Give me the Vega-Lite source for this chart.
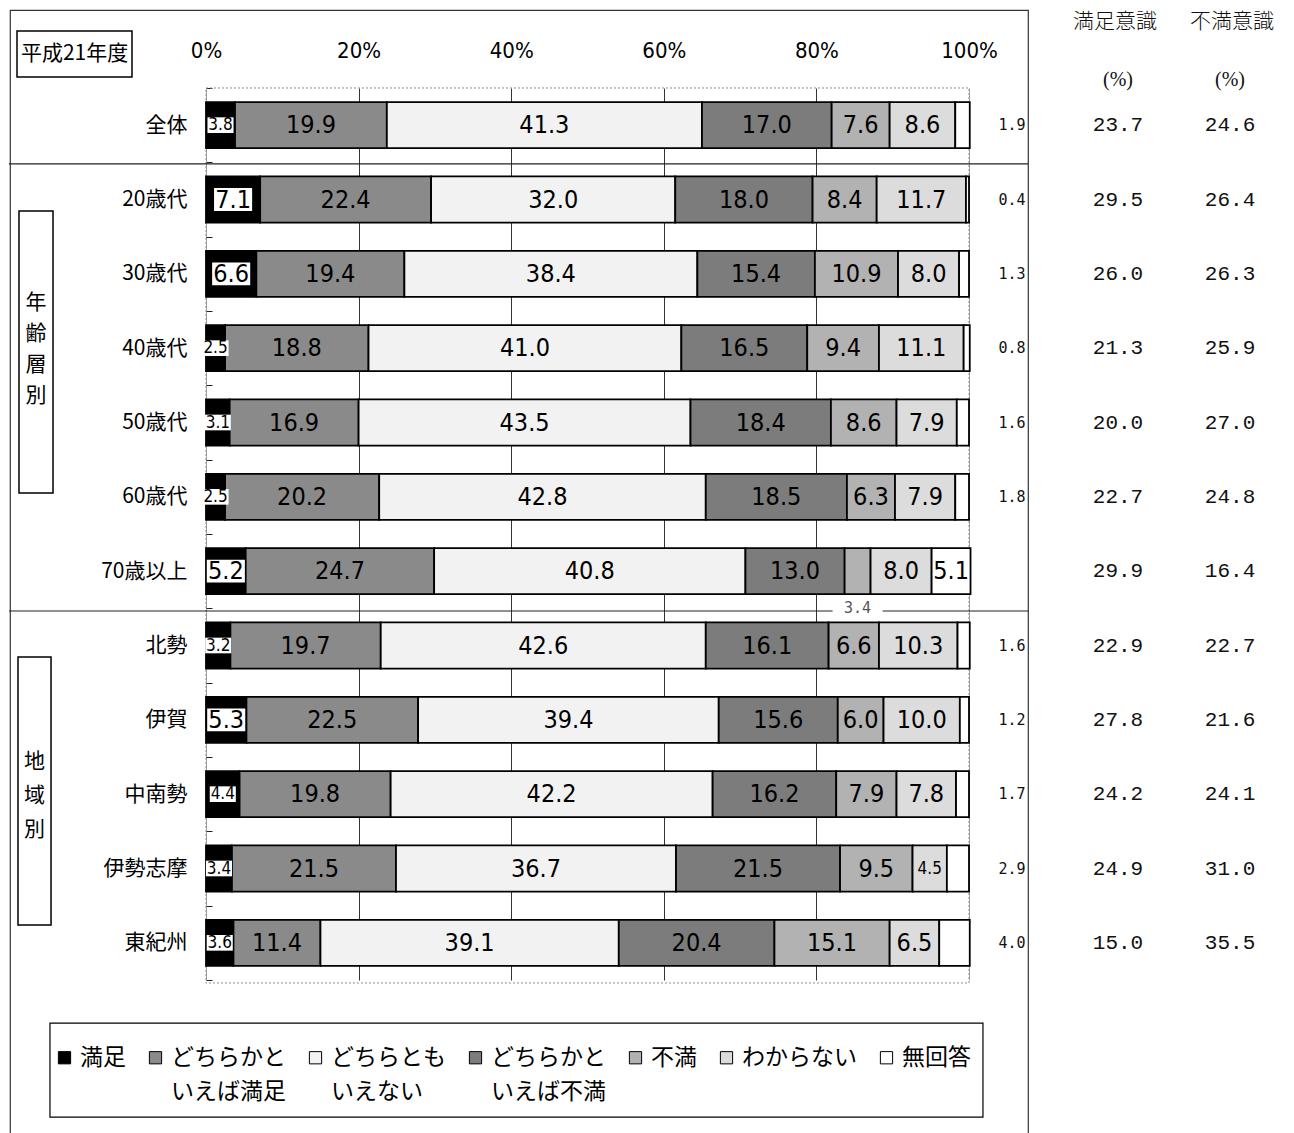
{
  "$schema": "https://vega.github.io/schema/vega-lite/v6.json",
  "width": 1018,
  "height": 1125,
  "autosize": {"type": "none"},
  "padding": {"left": 10, "top": 10, "right": 266, "bottom": 0},
  "background": "white",
  "config": {
    "view": {"stroke": "#333", "strokeWidth": 1.2},
    "axis": {"labelOverlap": false, "labelFlush": false}
  },
  "datasets": {
    "survey": [
      {"row":"全体","cat":"満足","code":1,"v":3.8},{"row":"全体","cat":"どちらかといえば満足","code":2,"v":19.9},{"row":"全体","cat":"どちらともいえない","code":3,"v":41.3},{"row":"全体","cat":"どちらかといえば不満","code":4,"v":17.0},{"row":"全体","cat":"不満","code":5,"v":7.6},{"row":"全体","cat":"わからない","code":6,"v":8.6},{"row":"全体","cat":"無回答","code":7,"v":1.9},
      {"row":"20歳代","cat":"満足","code":1,"v":7.1},{"row":"20歳代","cat":"どちらかといえば満足","code":2,"v":22.4},{"row":"20歳代","cat":"どちらともいえない","code":3,"v":32.0},{"row":"20歳代","cat":"どちらかといえば不満","code":4,"v":18.0},{"row":"20歳代","cat":"不満","code":5,"v":8.4},{"row":"20歳代","cat":"わからない","code":6,"v":11.7},{"row":"20歳代","cat":"無回答","code":7,"v":0.4},
      {"row":"30歳代","cat":"満足","code":1,"v":6.6},{"row":"30歳代","cat":"どちらかといえば満足","code":2,"v":19.4},{"row":"30歳代","cat":"どちらともいえない","code":3,"v":38.4},{"row":"30歳代","cat":"どちらかといえば不満","code":4,"v":15.4},{"row":"30歳代","cat":"不満","code":5,"v":10.9},{"row":"30歳代","cat":"わからない","code":6,"v":8.0},{"row":"30歳代","cat":"無回答","code":7,"v":1.3},
      {"row":"40歳代","cat":"満足","code":1,"v":2.5},{"row":"40歳代","cat":"どちらかといえば満足","code":2,"v":18.8},{"row":"40歳代","cat":"どちらともいえない","code":3,"v":41.0},{"row":"40歳代","cat":"どちらかといえば不満","code":4,"v":16.5},{"row":"40歳代","cat":"不満","code":5,"v":9.4},{"row":"40歳代","cat":"わからない","code":6,"v":11.1},{"row":"40歳代","cat":"無回答","code":7,"v":0.8},
      {"row":"50歳代","cat":"満足","code":1,"v":3.1},{"row":"50歳代","cat":"どちらかといえば満足","code":2,"v":16.9},{"row":"50歳代","cat":"どちらともいえない","code":3,"v":43.5},{"row":"50歳代","cat":"どちらかといえば不満","code":4,"v":18.4},{"row":"50歳代","cat":"不満","code":5,"v":8.6},{"row":"50歳代","cat":"わからない","code":6,"v":7.9},{"row":"50歳代","cat":"無回答","code":7,"v":1.6},
      {"row":"60歳代","cat":"満足","code":1,"v":2.5},{"row":"60歳代","cat":"どちらかといえば満足","code":2,"v":20.2},{"row":"60歳代","cat":"どちらともいえない","code":3,"v":42.8},{"row":"60歳代","cat":"どちらかといえば不満","code":4,"v":18.5},{"row":"60歳代","cat":"不満","code":5,"v":6.3},{"row":"60歳代","cat":"わからない","code":6,"v":7.9},{"row":"60歳代","cat":"無回答","code":7,"v":1.8},
      {"row":"70歳以上","cat":"満足","code":1,"v":5.2},{"row":"70歳以上","cat":"どちらかといえば満足","code":2,"v":24.7},{"row":"70歳以上","cat":"どちらともいえない","code":3,"v":40.8},{"row":"70歳以上","cat":"どちらかといえば不満","code":4,"v":13.0},{"row":"70歳以上","cat":"不満","code":5,"v":3.4},{"row":"70歳以上","cat":"わからない","code":6,"v":8.0},{"row":"70歳以上","cat":"無回答","code":7,"v":5.1},
      {"row":"北勢","cat":"満足","code":1,"v":3.2},{"row":"北勢","cat":"どちらかといえば満足","code":2,"v":19.7},{"row":"北勢","cat":"どちらともいえない","code":3,"v":42.6},{"row":"北勢","cat":"どちらかといえば不満","code":4,"v":16.1},{"row":"北勢","cat":"不満","code":5,"v":6.6},{"row":"北勢","cat":"わからない","code":6,"v":10.3},{"row":"北勢","cat":"無回答","code":7,"v":1.6},
      {"row":"伊賀","cat":"満足","code":1,"v":5.3},{"row":"伊賀","cat":"どちらかといえば満足","code":2,"v":22.5},{"row":"伊賀","cat":"どちらともいえない","code":3,"v":39.4},{"row":"伊賀","cat":"どちらかといえば不満","code":4,"v":15.6},{"row":"伊賀","cat":"不満","code":5,"v":6.0},{"row":"伊賀","cat":"わからない","code":6,"v":10.0},{"row":"伊賀","cat":"無回答","code":7,"v":1.2},
      {"row":"中南勢","cat":"満足","code":1,"v":4.4},{"row":"中南勢","cat":"どちらかといえば満足","code":2,"v":19.8},{"row":"中南勢","cat":"どちらともいえない","code":3,"v":42.2},{"row":"中南勢","cat":"どちらかといえば不満","code":4,"v":16.2},{"row":"中南勢","cat":"不満","code":5,"v":7.9},{"row":"中南勢","cat":"わからない","code":6,"v":7.8},{"row":"中南勢","cat":"無回答","code":7,"v":1.7},
      {"row":"伊勢志摩","cat":"満足","code":1,"v":3.4},{"row":"伊勢志摩","cat":"どちらかといえば満足","code":2,"v":21.5},{"row":"伊勢志摩","cat":"どちらともいえない","code":3,"v":36.7},{"row":"伊勢志摩","cat":"どちらかといえば不満","code":4,"v":21.5},{"row":"伊勢志摩","cat":"不満","code":5,"v":9.5},{"row":"伊勢志摩","cat":"わからない","code":6,"v":4.5},{"row":"伊勢志摩","cat":"無回答","code":7,"v":2.9},
      {"row":"東紀州","cat":"満足","code":1,"v":3.6},{"row":"東紀州","cat":"どちらかといえば満足","code":2,"v":11.4},{"row":"東紀州","cat":"どちらともいえない","code":3,"v":39.1},{"row":"東紀州","cat":"どちらかといえば不満","code":4,"v":20.4},{"row":"東紀州","cat":"不満","code":5,"v":15.1},{"row":"東紀州","cat":"わからない","code":6,"v":6.5},{"row":"東紀州","cat":"無回答","code":7,"v":4.0}
    ],
    "summary": [
      {"row":"全体","sat":23.7,"dis":24.6},
      {"row":"20歳代","sat":29.5,"dis":26.4},
      {"row":"30歳代","sat":26.0,"dis":26.3},
      {"row":"40歳代","sat":21.3,"dis":25.9},
      {"row":"50歳代","sat":20.0,"dis":27.0},
      {"row":"60歳代","sat":22.7,"dis":24.8},
      {"row":"70歳以上","sat":29.9,"dis":16.4},
      {"row":"北勢","sat":22.9,"dis":22.7},
      {"row":"伊賀","sat":27.8,"dis":21.6},
      {"row":"中南勢","sat":24.2,"dis":24.1},
      {"row":"伊勢志摩","sat":24.9,"dis":31.0},
      {"row":"東紀州","sat":15.0,"dis":35.5}
    ]
  },
  "resolve": {"scale": {"y": "independent"}, "axis": {"x": "independent", "y": "independent"}},
  "layer": [
    {
      "data": {"values": [{}]},
      "layer": [
        {"mark": {"type": "rect", "fill": "transparent", "stroke": "#8c8c8c", "strokeWidth": 1, "strokeDash": [2, 2]},
         "encoding": {
           "x": {"datum": 0, "type": "quantitative", "scale": {"domain": [0, 100], "range": [196, 959], "nice": false, "zero": false}, "axis": null},
           "x2": {"datum": 100},
           "y": {"datum": 0.5, "type": "quantitative", "scale": {"domain": [0, 15], "range": [40.83, 1155.83], "nice": false, "zero": false}, "axis": null},
           "y2": {"datum": 12.54}}},
        {"mark": {"type": "rect", "fill": "white", "stroke": "#000", "strokeWidth": 1.5},
         "encoding": {
           "x": {"datum": -24.77, "type": "quantitative", "scale": {"domain": [0, 100], "range": [196, 959], "nice": false, "zero": false}, "axis": null},
           "x2": {"datum": -9.7},
           "y": {"datum": -0.267, "type": "quantitative", "scale": {"domain": [0, 15], "range": [40.83, 1155.83], "nice": false, "zero": false}, "axis": null},
           "y2": {"datum": 0.352}}},
        {"mark": {"type": "text", "font": "Noto Sans CJK JP", "fontSize": 21, "align": "center", "baseline": "middle", "color": "#000"},
         "encoding": {
           "x": {"datum": -17.23, "type": "quantitative", "scale": {"domain": [0, 100], "range": [196, 959], "nice": false, "zero": false}, "axis": null},
           "y": {"datum": 0.043, "type": "quantitative", "scale": {"domain": [0, 15], "range": [40.83, 1155.83], "nice": false, "zero": false}, "axis": null},
           "text": {"value": "平成21年度"}}},
        {"mark": {"type": "rule", "stroke": "#222", "strokeWidth": 1.2},
         "encoding": {
           "x": {"datum": -25.82, "type": "quantitative", "scale": {"domain": [0, 100], "range": [196, 959], "nice": false, "zero": false}, "axis": null},
           "x2": {"datum": 107.73},
           "y": {"datum": 1.522, "type": "quantitative", "scale": {"domain": [0, 15], "range": [40.83, 1155.83], "nice": false, "zero": false}, "axis": null}}},
        {"mark": {"type": "rule", "stroke": "#222", "strokeWidth": 1.2},
         "encoding": {
           "x": {"datum": -25.82, "type": "quantitative", "scale": {"domain": [0, 100], "range": [196, 959], "nice": false, "zero": false}, "axis": null},
           "x2": {"datum": 107.73},
           "y": {"datum": 7.536, "type": "quantitative", "scale": {"domain": [0, 15], "range": [40.83, 1155.83], "nice": false, "zero": false}, "axis": null}}},
        {"mark": {"type": "rect", "fill": "white", "stroke": "#000", "strokeWidth": 1.5},
         "encoding": {
           "x": {"datum": -24.51, "type": "quantitative", "scale": {"domain": [0, 100], "range": [196, 959], "nice": false, "zero": false}, "axis": null},
           "x2": {"datum": -20.05},
           "y": {"datum": 2.155, "type": "quantitative", "scale": {"domain": [0, 15], "range": [40.83, 1155.83], "nice": false, "zero": false}, "axis": null},
           "y2": {"datum": 5.949}}},
        {"mark": {"type": "text", "font": "Noto Sans CJK JP", "fontSize": 21, "align": "center", "baseline": "middle", "lineHeight": 31, "color": "#000"},
         "encoding": {
           "x": {"datum": -22.28, "type": "quantitative", "scale": {"domain": [0, 100], "range": [196, 959], "nice": false, "zero": false}, "axis": null},
           "y": {"datum": 3.392, "type": "quantitative", "scale": {"domain": [0, 15], "range": [40.83, 1155.83], "nice": false, "zero": false}, "axis": null},
           "text": {"value": ["年", "齢", "層", "別"]}}},
        {"mark": {"type": "rect", "fill": "white", "stroke": "#000", "strokeWidth": 1.5},
         "encoding": {
           "x": {"datum": -24.64, "type": "quantitative", "scale": {"domain": [0, 100], "range": [196, 959], "nice": false, "zero": false}, "axis": null},
           "x2": {"datum": -20.31},
           "y": {"datum": 8.155, "type": "quantitative", "scale": {"domain": [0, 15], "range": [40.83, 1155.83], "nice": false, "zero": false}, "axis": null},
           "y2": {"datum": 11.761}}},
        {"mark": {"type": "text", "font": "Noto Sans CJK JP", "fontSize": 21, "align": "center", "baseline": "middle", "lineHeight": 34, "color": "#000"},
         "encoding": {
           "x": {"datum": -22.48, "type": "quantitative", "scale": {"domain": [0, 100], "range": [196, 959], "nice": false, "zero": false}, "axis": null},
           "y": {"datum": 9.567, "type": "quantitative", "scale": {"domain": [0, 15], "range": [40.83, 1155.83], "nice": false, "zero": false}, "axis": null},
           "text": {"value": ["地", "域", "別"]}}},
        {"mark": {"type": "text", "font": "Noto Sans CJK JP", "fontSize": 21, "fontWeight": 300, "align": "center", "baseline": "middle", "color": "#111"},
         "encoding": {
           "x": {"datum": 119.13, "type": "quantitative", "scale": {"domain": [0, 100], "range": [196, 959], "nice": false, "zero": false}, "axis": null},
           "y": {"datum": -0.388, "type": "quantitative", "scale": {"domain": [0, 15], "range": [40.83, 1155.83], "nice": false, "zero": false}, "axis": null},
           "text": {"value": "満足意識"}}},
        {"mark": {"type": "text", "font": "Noto Sans CJK JP", "fontSize": 21, "fontWeight": 300, "align": "center", "baseline": "middle", "color": "#111"},
         "encoding": {
           "x": {"datum": 134.47, "type": "quantitative", "scale": {"domain": [0, 100], "range": [196, 959], "nice": false, "zero": false}, "axis": null},
           "y": {"datum": -0.388, "type": "quantitative", "scale": {"domain": [0, 15], "range": [40.83, 1155.83], "nice": false, "zero": false}, "axis": null},
           "text": {"value": "不満意識"}}},
        {"mark": {"type": "text", "font": "Liberation Serif", "fontSize": 20, "align": "center", "baseline": "middle", "color": "#111"},
         "encoding": {
           "x": {"datum": 119.53, "type": "quantitative", "scale": {"domain": [0, 100], "range": [196, 959], "nice": false, "zero": false}, "axis": null},
           "y": {"datum": 0.393, "type": "quantitative", "scale": {"domain": [0, 15], "range": [40.83, 1155.83], "nice": false, "zero": false}, "axis": null},
           "text": {"value": "(%)"}}},
        {"mark": {"type": "text", "font": "Liberation Serif", "fontSize": 20, "align": "center", "baseline": "middle", "color": "#111"},
         "encoding": {
           "x": {"datum": 134.21, "type": "quantitative", "scale": {"domain": [0, 100], "range": [196, 959], "nice": false, "zero": false}, "axis": null},
           "y": {"datum": 0.393, "type": "quantitative", "scale": {"domain": [0, 15], "range": [40.83, 1155.83], "nice": false, "zero": false}, "axis": null},
           "text": {"value": "(%)"}}},
        {"mark": {"type": "rect", "fill": "white", "stroke": "#000", "strokeWidth": 1.2},
         "encoding": {
           "x": {"datum": -20.45, "type": "quantitative", "scale": {"domain": [0, 100], "range": [196, 959], "nice": false, "zero": false}, "axis": null},
           "x2": {"datum": 101.83},
           "y": {"datum": 13.079, "type": "quantitative", "scale": {"domain": [0, 15], "range": [40.83, 1155.83], "nice": false, "zero": false}, "axis": null},
           "y2": {"datum": 14.344}}}
      ]
    },
    {
      "data": {"name": "survey"},
      "layer": [
        {"mark": {"type": "bar", "height": {"band": 0.62}, "stroke": "#000", "strokeWidth": 1.8},
         "encoding": {
           "y": {"field": "row", "type": "nominal",
                 "scale": {"domain": ["全体","20歳代","30歳代","40歳代","50歳代","60歳代","70歳以上","北勢","伊賀","中南勢","伊勢志摩","東紀州"], "range": [78, 970], "paddingInner": 0, "paddingOuter": 0},
                 "axis": {"orient": "left", "offset": -196, "title": null, "domain": false, "ticks": true, "tickBand": "extent", "tickSize": -6, "tickColor": "#222", "tickWidth": 1, "labelFont": "Noto Sans CJK JP", "labelFontSize": 21, "labelColor": "#000", "labelPadding": 25, "grid": false}},
           "x": {"field": "v", "type": "quantitative", "stack": "zero",
                 "scale": {"domain": [0, 100], "range": [196, 959], "nice": false, "zero": false},
                 "axis": {"orient": "top", "offset": -78, "title": null, "values": [0, 20, 40, 60, 80, 100], "labelExpr": "datum.value + '%'", "labelFont": "Liberation Sans Narrow, DejaVu Sans Condensed, DejaVu Sans Mono", "labelFontSize": 22, "labelColor": "#000", "labelPadding": 26, "ticks": false, "domain": false, "grid": true,
                          "gridColor": {"condition": {"test": "datum.value == 0 || datum.value == 100", "value": "#a0a0a0"}, "value": "#333"}, "gridWidth": 1}},
           "color": {"field": "cat", "type": "nominal",
                     "scale": {"domain": ["満足","どちらかといえば満足","どちらともいえない","どちらかといえば不満","不満","わからない","無回答"],
                               "range": ["#000000","#8a8a8a","#f2f2f2","#7c7c7c","#b2b2b2","#dcdcdc","#ffffff"]},
                     "legend": {"orient": "none", "legendX": 43, "legendY": 1036, "direction": "horizontal", "title": null, "padding": 0,
                                "symbolType": "square", "symbolSize": 150, "symbolStrokeColor": "#000", "symbolStrokeWidth": 1, "symbolOpacity": 1,
                                "labelFont": "Noto Sans CJK JP", "labelFontSize": 23, "labelColor": "#000", "labelLimit": 0, "labelOffset": 4, "columnPadding": 18,
                                "labelExpr": "length(datum.label) > 5 ? [substring(datum.label, 0, 5), substring(datum.label, 5)] : [datum.label, ' ']",
                                "encode": {"labels": {"update": {"lineHeight": {"value": 34}}}}}},
           "order": {"field": "code", "type": "quantitative"}}},
        {"mark": {"type": "point", "shape": "M-1,-0.6L1,-0.6L1,0.6L-1,0.6Z", "filled": true, "fill": "#ffffff"},
         "encoding": {
           "y": {"field": "row", "type": "nominal", "scale": {"domain": ["全体","20歳代","30歳代","40歳代","50歳代","60歳代","70歳以上","北勢","伊賀","中南勢","伊勢志摩","東紀州"], "range": [78, 970], "paddingInner": 0, "paddingOuter": 0}},
           "x": {"field": "v", "type": "quantitative", "stack": "zero", "bandPosition": 0.5, "scale": {"domain": [0, 100], "range": [196, 959], "nice": false, "zero": false}},
           "detail": {"field": "cat"},
           "order": {"field": "code", "type": "quantitative"},
           "opacity": {"condition": {"test": "datum.cat == '満足'", "value": 1}, "value": 0},
           "size": {"condition": {"test": "datum.v < 5", "value": 680}, "value": 1450}}},
        {"mark": {"type": "text", "font": "Liberation Sans Narrow, DejaVu Sans Condensed, DejaVu Sans Mono", "align": "center", "baseline": "middle", "color": "#000"},
         "encoding": {
           "y": {"field": "row", "type": "nominal", "scale": {"domain": ["全体","20歳代","30歳代","40歳代","50歳代","60歳代","70歳以上","北勢","伊賀","中南勢","伊勢志摩","東紀州"], "range": [78, 970], "paddingInner": 0, "paddingOuter": 0}},
           "x": {"field": "v", "type": "quantitative", "stack": "zero", "bandPosition": 0.5, "scale": {"domain": [0, 100], "range": [196, 959], "nice": false, "zero": false}},
           "detail": {"field": "cat"},
           "order": {"field": "code", "type": "quantitative"},
           "text": {"condition": {"test": "(datum.cat == '無回答' && datum.row != '70歳以上') || (datum.cat == '不満' && datum.row == '70歳以上')", "value": ""}, "field": "v", "type": "quantitative", "format": ".1f"},
           "size": {"condition": {"test": "datum.v < 5", "value": 17}, "value": 25}}},
        {"mark": {"type": "point", "shape": "M-1,-0.25L1,-0.25L1,0.25L-1,0.25Z", "filled": true, "fill": "#ffffff"},
         "encoding": {
           "y": {"field": "row", "type": "nominal", "bandPosition": 1, "scale": {"domain": ["全体","20歳代","30歳代","40歳代","50歳代","60歳代","70歳以上","北勢","伊賀","中南勢","伊勢志摩","東紀州"], "range": [78, 970], "paddingInner": 0, "paddingOuter": 0}},
           "x": {"field": "v", "type": "quantitative", "stack": "zero", "bandPosition": 0.5, "scale": {"domain": [0, 100], "range": [196, 959], "nice": false, "zero": false}},
           "detail": {"field": "cat"},
           "order": {"field": "code", "type": "quantitative"},
           "opacity": {"condition": {"test": "datum.cat == '不満' && datum.row == '70歳以上'", "value": 1}, "value": 0},
           "size": {"value": 2500}}},
        {"mark": {"type": "text", "font": "DejaVu Sans Mono", "fontSize": 15, "align": "center", "baseline": "middle", "color": "#555"},
         "encoding": {
           "y": {"field": "row", "type": "nominal", "bandPosition": 1, "scale": {"domain": ["全体","20歳代","30歳代","40歳代","50歳代","60歳代","70歳以上","北勢","伊賀","中南勢","伊勢志摩","東紀州"], "range": [78, 970], "paddingInner": 0, "paddingOuter": 0}},
           "x": {"field": "v", "type": "quantitative", "stack": "zero", "bandPosition": 0.5, "scale": {"domain": [0, 100], "range": [196, 959], "nice": false, "zero": false}},
           "detail": {"field": "cat"},
           "order": {"field": "code", "type": "quantitative"},
           "text": {"condition": {"test": "!(datum.cat == '不満' && datum.row == '70歳以上')", "value": ""}, "field": "v", "type": "quantitative", "format": ".1f"}}},
        {"transform": [{"filter": "datum.cat == '無回答' && datum.row != '70歳以上'"}],
         "mark": {"type": "text", "font": "DejaVu Sans Mono", "fontSize": 15, "align": "center", "baseline": "middle", "color": "#111"},
         "encoding": {
           "y": {"field": "row", "type": "nominal", "scale": {"domain": ["全体","20歳代","30歳代","40歳代","50歳代","60歳代","70歳以上","北勢","伊賀","中南勢","伊勢志摩","東紀州"], "range": [78, 970], "paddingInner": 0, "paddingOuter": 0}},
           "x": {"datum": 105.64, "type": "quantitative", "scale": {"domain": [0, 100], "range": [196, 959], "nice": false, "zero": false}},
           "text": {"field": "v", "type": "quantitative", "format": ".1f"}}},
        {"data": {"name": "summary"},
         "mark": {"type": "text", "font": "Liberation Mono", "fontSize": 21, "align": "center", "baseline": "middle", "color": "#111"},
         "encoding": {
           "y": {"field": "row", "type": "nominal", "scale": {"domain": ["全体","20歳代","30歳代","40歳代","50歳代","60歳代","70歳以上","北勢","伊賀","中南勢","伊勢志摩","東紀州"], "range": [78, 970], "paddingInner": 0, "paddingOuter": 0}},
           "x": {"datum": 119.53, "type": "quantitative", "scale": {"domain": [0, 100], "range": [196, 959], "nice": false, "zero": false}},
           "text": {"field": "sat", "type": "quantitative", "format": ".1f"}}},
        {"data": {"name": "summary"},
         "mark": {"type": "text", "font": "Liberation Mono", "fontSize": 21, "align": "center", "baseline": "middle", "color": "#111"},
         "encoding": {
           "y": {"field": "row", "type": "nominal", "scale": {"domain": ["全体","20歳代","30歳代","40歳代","50歳代","60歳代","70歳以上","北勢","伊賀","中南勢","伊勢志摩","東紀州"], "range": [78, 970], "paddingInner": 0, "paddingOuter": 0}},
           "x": {"datum": 134.21, "type": "quantitative", "scale": {"domain": [0, 100], "range": [196, 959], "nice": false, "zero": false}},
           "text": {"field": "dis", "type": "quantitative", "format": ".1f"}}}
      ]
    }
  ]
}
